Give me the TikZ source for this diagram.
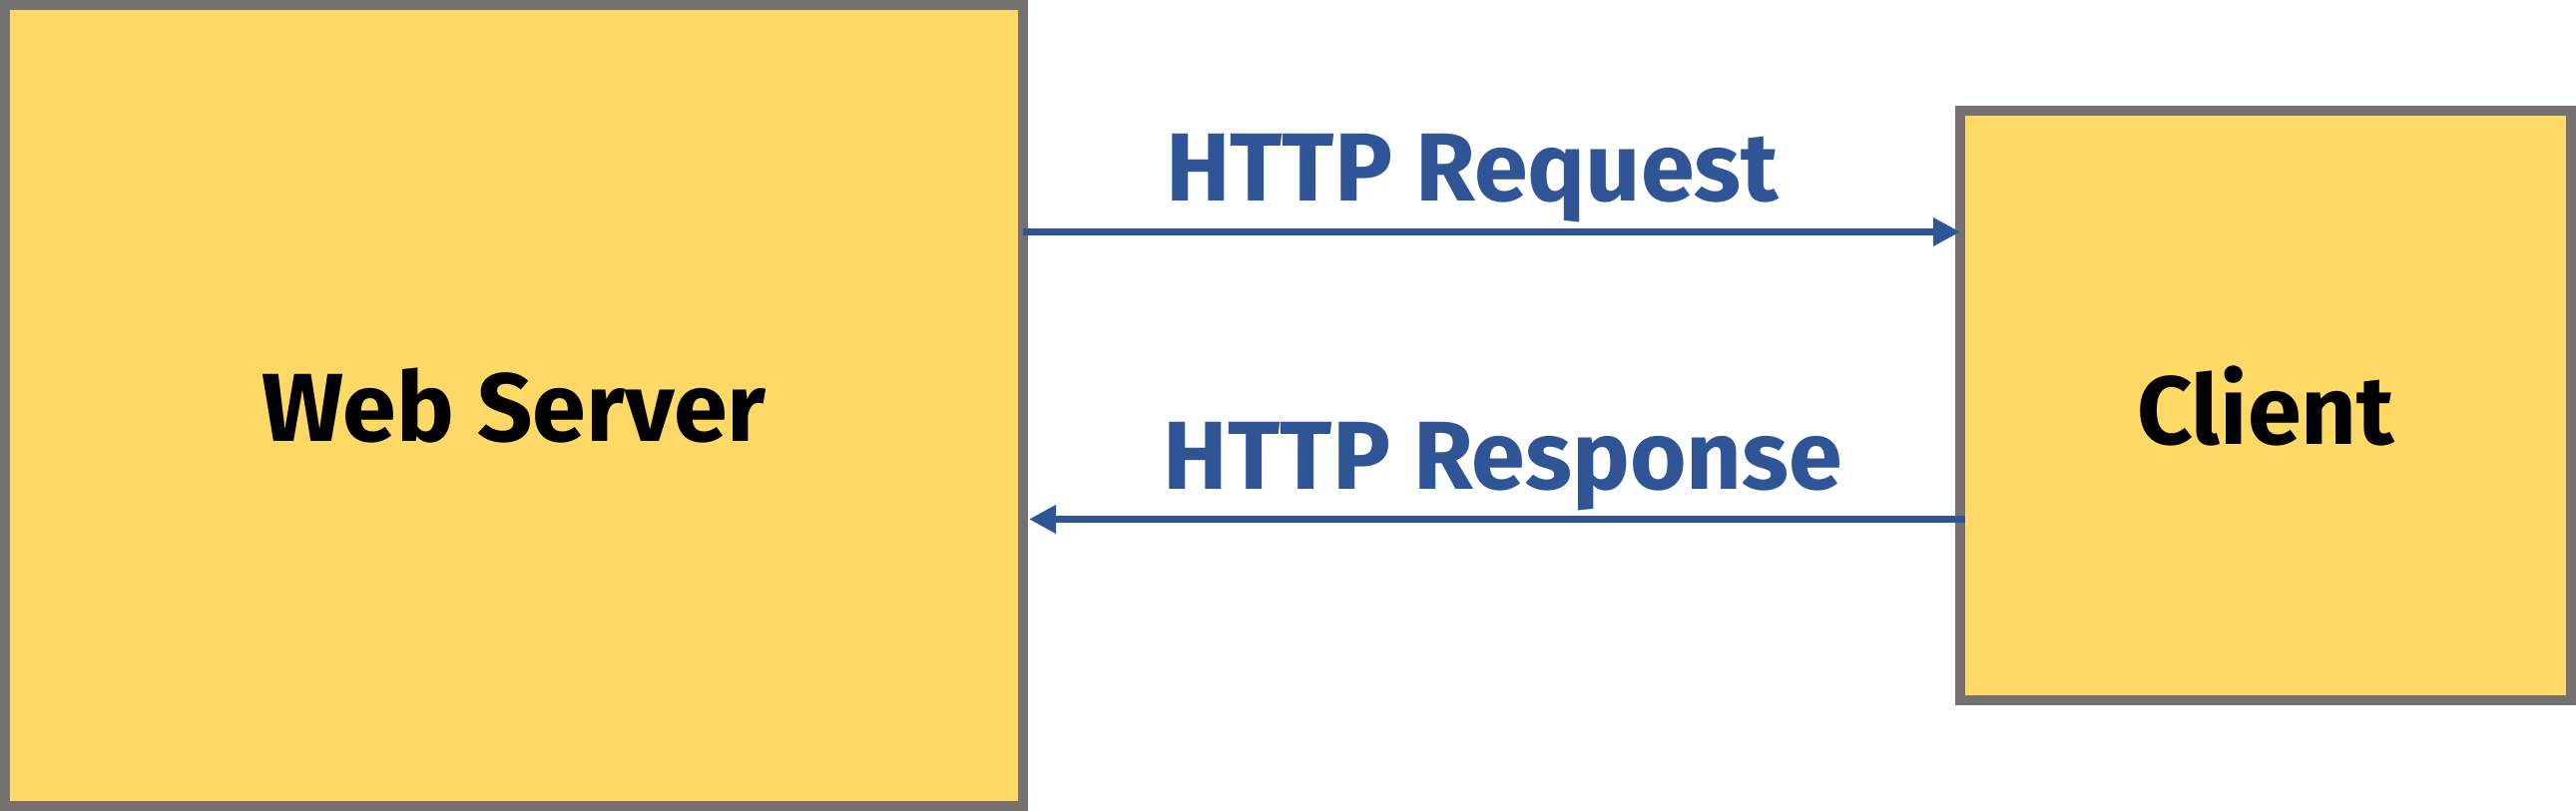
\documentclass[tikz,border=0pt]{standalone}
\usepackage{fontspec}
\setmainfont{Fira Sans}
\usetikzlibrary{arrows.meta,calc}
\definecolor{boxfill}{HTML}{FFD966}
\definecolor{boxline}{HTML}{767171}
\definecolor{arrblue}{HTML}{2F5597}
\tikzset{
  box/.style={draw=boxline, fill=boxfill, line width=10pt, outer sep=0pt, inner sep=0pt,
    font=\fontsize{97}{110}\selectfont\bfseries, text=black},
  msg/.style={draw=arrblue, line width=7pt, -{Triangle[length=27pt,width=27pt]}},
  msglabel/.style={anchor=base, inner sep=0pt, text=arrblue, font=\fontsize{97}{110}\selectfont\bfseries}
}
\begin{document}
\begin{tikzpicture}[x=1pt,y=-1pt]
\useasboundingbox (0,0) rectangle (2581,813);
\node[box, minimum width=1020pt, minimum height=803pt] (ws) at (515,406.5) {Web Server};
\node[box, minimum width=612pt, minimum height=591pt] (cl) at (2270,406.5) {Client};
\coordinate (ry) at (0,232.5);
\coordinate (sy) at (0,520.5);
\draw[msg] (ws.east |- ry) -- (cl.west |- ry);
\draw[msg] ($(cl.west |- sy)+(5,0)$) -- ($(ws.east |- sy)+(6,0)$);
\node[msglabel] (req) at (1475,202) {HTTP Request};
\node[msglabel] (resp) at (1506,490) {HTTP Response};
\end{tikzpicture}
\end{document}
